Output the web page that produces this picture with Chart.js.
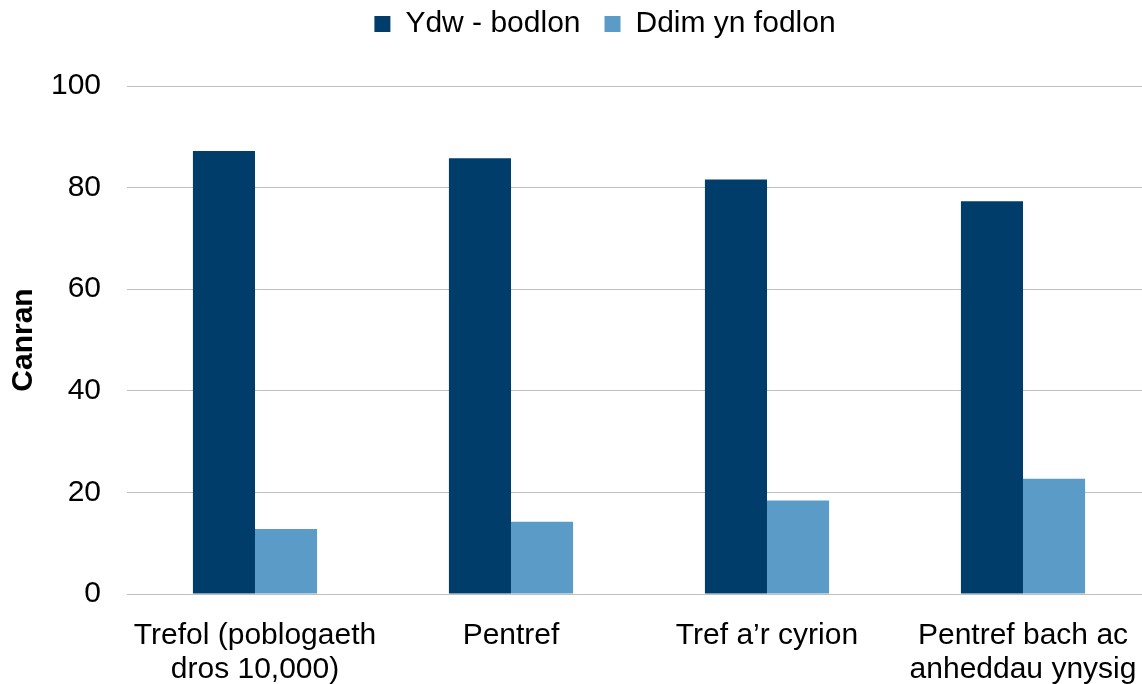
<!DOCTYPE html>
<html>
<head>
<meta charset="utf-8">
<script src="https://cdn.jsdelivr.net/npm/chart.js@4/dist/chart.umd.min.js"></script>
<style>
  html, body { margin: 0; padding: 0; background: #fff; }
  #wrap { width: 1142px; height: 684px; }
</style>
</head>
<body>
<div id="wrap"><canvas id="satisfactionChart" width="1142" height="684"></canvas></div>
<script>
const categories = [
  ["Trefol (poblogaeth", "dros 10,000)"],
  "Pentref",
  "Tref a\u2019r cyrion",
  ["Pentref bach ac", "anheddau ynysig"]
];
const seriesNames = ["Ydw - bodlon", "Ddim yn fodlon"];
const satisfied = [87.2, 85.8, 81.6, 77.3];
const notSatisfied = [12.8, 14.2, 18.4, 22.7];
const yTicks = [0, 20, 40, 60, 80, 100];

const FONT = "'Liberation Sans', Arial, sans-serif";
const PLOT_OVERHANG = 9; // plot runs a little past the right edge of the canvas

// Nudge the legend into place and stretch the plot once the layout is done
const layoutTweaks = {
  id: "layoutTweaks",
  afterLayout(chart) {
    const legend = chart.legend;
    if (legend) {
      legend.top -= 37;
      legend.bottom -= 37;
      legend.left += 34;
      legend.right += 34;
    }
    const x = chart.scales.x;
    x.right += PLOT_OVERHANG;
    x.width += PLOT_OVERHANG;
    x.configure();
    chart.chartArea.right += PLOT_OVERHANG;
    chart.chartArea.width += PLOT_OVERHANG;
  }
};

function initChart() {
  const ctx = document.getElementById("satisfactionChart").getContext("2d");
  return new Chart(ctx, {
    type: "bar",
    data: {
      labels: categories,
      datasets: [
        {
          label: seriesNames[0],
          data: satisfied,
          backgroundColor: "#003d6b",
          borderWidth: 0
        },
        {
          label: seriesNames[1],
          data: notSatisfied,
          backgroundColor: "#5b9bc8",
          borderWidth: 0
        }
      ]
    },
    options: {
      responsive: false,
      animation: false,
      layout: { padding: { top: 22, right: 0, bottom: 0, left: 0 } },
      plugins: {
        legend: {
          position: "top",
          labels: {
            boxWidth: 16,
            boxHeight: 16,
            padding: 24,
            color: "#000",
            font: { family: FONT, size: 30 }
          }
        },
        tooltip: { enabled: false }
      },
      datasets: {
        bar: { categoryPercentage: 0.485, barPercentage: 1.0 }
      },
      scales: {
        x: {
          grid: { display: false, drawTicks: false },
          border: { display: true, color: "#bfbfbf", width: 1 },
          ticks: {
            color: "#000",
            padding: 25,
            autoSkip: false,
            maxRotation: 0,
            font: { family: FONT, size: 30, lineHeight: 1.12 }
          },
          afterFit(scale) {
            scale.height = 90;
            scale.paddingLeft = 0;
            scale.paddingRight = 0;
          }
        },
        y: {
          min: 0,
          max: 100,
          afterBuildTicks(scale) {
            scale.ticks = yTicks.map(v => ({ value: v }));
          },
          grid: { color: "#bfbfbf", lineWidth: 1, drawTicks: false },
          border: { display: false },
          ticks: {
            color: "#000",
            padding: 26,
            font: { family: FONT, size: 30 }
          },
          title: {
            display: true,
            text: "Canran",
            color: "#000",
            padding: { top: 6, bottom: 0 },
            font: { family: FONT, size: 30, weight: "bold", lineHeight: 1.2 }
          },
          afterFit(scale) { scale.width = 127; }
        }
      }
    },
    plugins: [layoutTweaks]
  });
}

window.onload = function () {
  initChart();
};
</script>
</body>
</html>
